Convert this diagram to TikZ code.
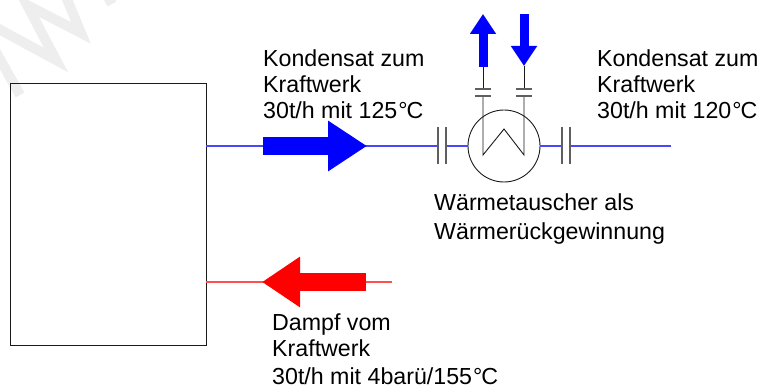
\documentclass[tikz,border=0pt]{standalone}
\usepackage{fontspec}
\setmainfont{Liberation Sans}
\usepackage{xcolor}
\usetikzlibrary{positioning,arrows.meta,calc}
\definecolor{ink}{HTML}{1A1A1A}
\definecolor{wmark}{HTML}{EEEEEE}
\definecolor{pipeblue}{HTML}{0000FF}
\definecolor{pipered}{HTML}{FF0000}
\definecolor{linblue}{HTML}{4848F8}
\definecolor{linred}{HTML}{FF5050}
\tikzset{
  apparat/.style={draw=ink, line width=0.9pt, inner sep=0pt},
  lbl/.style={align=left, inner sep=0pt, anchor=north west, font=\fontsize{23.2}{26}\selectfont},
  blueln/.style={draw=linblue, line width=1.2pt},
  redln/.style={draw=linred, line width=1.2pt},
  thinln/.style={draw=ink, line width=0.9pt},
  flange/.style={draw=ink!70, line width=1.2pt},
  bigar/.style={line width=18pt, color=pipeblue},
  smallar/.style={-{Triangle[length=20pt, width=25pt]}, line width=9pt, color=pipeblue},
}
\newcommand{\degC}{\kern1pt\textdegree\kern-1pt C}

\begin{document}
\begin{tikzpicture}[x=1pt, y=-1pt]
\useasboundingbox (0,0) rectangle (759,387);

% watermark
\draw[wmark, line width=10pt] (-5,27) -- (56,60) -- (27,5) -- (81,33) -- (64,-8);
\draw[wmark, line width=10pt] (-8,45) -- (20,95);
\draw[wmark, line width=10pt] (105,-8) -- (112,4);

\node[apparat, minimum width=196pt, minimum height=262pt] (plant) at (108,214) {};
\node[apparat, circle, minimum size=72pt] (wt) at (504,146) {};

% flanges in the main line
\coordinate (kl) at (438,146);
\coordinate (kr) at (446,146);
\coordinate (wl) at (562,146);
\coordinate (wr) at (570,146);
\coordinate (ende) at (671,146);
\coordinate (rein) at (392,282);

\draw[blueln] (plant.east |- kl) -- (kl);
\draw[blueln] (kr) -- (wt.west);
\draw[blueln] (wt.east) -- (wl);
\draw[blueln] (wr) -- (ende);
\draw[redln] (rein) -- (plant.east |- rein);

\foreach \p in {kl,kr,wl,wr}
  \draw[flange] ($(\p)+(0,-19)$) -- ($(\p)+(0,18)$);

% tube bundle
\coordinate (ru) at (483,155);
\coordinate (rm) at (504,129);
\coordinate (rv) at (524,155);
\coordinate (vl) at (483,96);
\coordinate (vo) at (483,89);
\coordinate (sl) at (483,67);
\coordinate (wv) at (524,96);
\coordinate (wo) at (524,89);
\coordinate (sr) at (524,66);
\draw[thinln] (vl) -- (ru) -- (rm) -- (rv) -- (wv);
\draw[thinln] (vo) -- (sl);
\draw[thinln] (wo) -- (sr);
\foreach \p in {vl,vo,wv,wo}
  \draw[flange] ($(\p)+(-8,0)$) -- ($(\p)+(8,0)$);

% flow arrows
\coordinate (ao) at (483,14);
\coordinate (bo) at (524,14);
\draw[smallar] (sl) -- (ao);
\draw[smallar] (bo) -- (sr);
\coordinate (ba) at (263,146);
\coordinate (bb) at (367,146);
\draw[bigar, -{Triangle[length=39pt, width=48pt]}] (ba) -- (bb);
\coordinate (ra) at (366,282);
\coordinate (rb) at (262,282);
\draw[bigar, -{Triangle[length=38pt, width=48pt]}, color=pipered] (ra) -- (rb);

\node[lbl] (kond) at (263,49) {Kondensat zum\\Kraftwerk\\30t/h mit 125\degC};
\node[lbl] (kondb) at (597,49) {Kondensat zum\\Kraftwerk\\30t/h mit 120\degC};
\node[lbl, font=\fontsize{23.2}{29}\selectfont] (wtext) at (434,193) {Wärmetauscher als\\Wärmerückgewinnung};
\node[lbl] (dampf) at (272,314) {Dampf vom\\Kraftwerk\\[1.5pt]30t/h mit 4barü/155\degC};

\end{tikzpicture}
\end{document}
